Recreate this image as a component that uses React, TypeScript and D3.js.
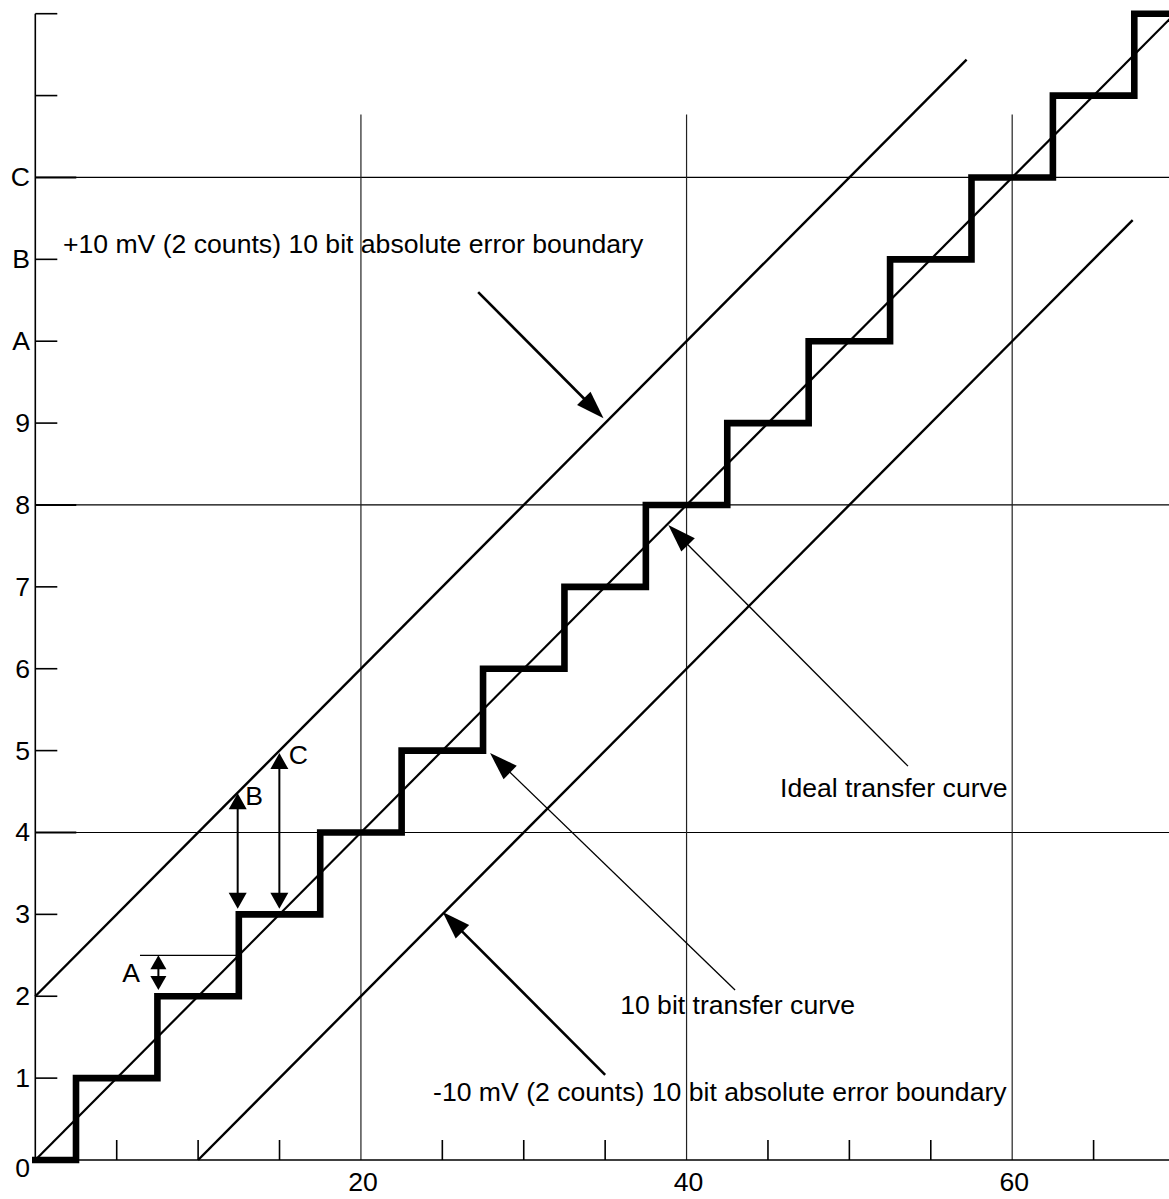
import React from 'react';
import * as d3 from 'd3';

// ---------- data ----------
const stepEdges = [0, 2.5, 7.5, 12.5, 17.5, 22.5, 27.5, 32.5, 37.5, 42.5, 47.5, 52.5, 57.5, 62.5, 67.5, 70];
const stepCodes = [0, 1, 2, 3, 4, 5, 6, 7, 8, 9, 10, 11, 12, 13, 14, 14];

const idealX = [0, 70];
const idealY = [0, 14];
const upperX = [0, 57.2];
const upperY = [2, 13.44];
const lowerX = [10, 67.4];
const lowerY = [0, 11.48];

const yTickValues = [0, 1, 2, 3, 4, 5, 6, 7, 8, 9, 10, 11, 12, 13, 14];
const yTickLabels = ['0', '1', '2', '3', '4', '5', '6', '7', '8', '9', 'A', 'B', 'C', '', ''];
const xMinorTicks = [5, 10, 15, 25, 30, 35, 45, 50, 55, 65];
const xLabelTicks = [20, 40, 60];
const gridYValues = [4, 8, 12];
const gridXValues = [20, 40, 60];
const gridXTop = 12.77;

// annotation arrows (data coordinates)
const bigArrows = [
  { from: [27.2, 10.6], tip: [34.9, 9.06], w: 2.6 },
  { from: [53.6, 4.81], tip: [38.88, 7.755], w: 1.3 },
  { from: [42.98, 2.076], tip: [27.93, 4.97], w: 1.3 },
  { from: [35.0, 1.04], tip: [25.02, 3.03], w: 2.6 },
];

// measurement arrows: x, lower tip y, upper tip y
const measureX = [7.56, 12.43, 14.99];
const measureLow = [2.076, 3.07, 3.07];
const measureHigh = [2.5, 4.48, 4.97];
const measureHead = [[14, 8], [16, 9], [16, 9]];
const refLineA = { x0: 6.43, x1: 12.37, y: 2.5 };

const labels = [
  { text: '+10 mV (2 counts) 10 bit absolute error boundary', x: 1.7, y: 11.08, anchor: 'start' },
  { text: 'Ideal transfer curve', x: 45.74, y: 4.43, anchor: 'start' },
  { text: '10 bit transfer curve', x: 35.92, y: 1.78, anchor: 'start' },
  { text: '-10 mV (2 counts) 10 bit absolute error boundary', x: 24.43, y: 0.72, anchor: 'start' },
  { text: 'A', x: 5.88, y: 2.18, anchor: 'middle' },
  { text: 'B', x: 12.9, y: 4.33, anchor: 'start' },
  { text: 'C', x: 15.56, y: 4.84, anchor: 'start' },
];

const W = 1169;
const H = 1199;
const FONT = "'Liberation Sans', Arial, Helvetica, sans-serif";
const FS = 26.6;

function arrowHead(tx: number, ty: number, fx: number, fy: number, len: number, hw: number) {
  const dx = tx - fx;
  const dy = ty - fy;
  const d = Math.sqrt(dx * dx + dy * dy);
  const ux = dx / d;
  const uy = dy / d;
  const bx = tx - ux * len;
  const by = ty - uy * len;
  const px = -uy;
  const py = ux;
  return `M${tx},${ty}L${bx + px * hw},${by + py * hw}L${bx - px * hw},${by - py * hw}Z`;
}

export default function App() {
  const x = d3.scaleLinear().domain([0, 70]).range([35.3, 1175]);
  const y = d3.scaleLinear().domain([0, 14]).range([1160, 13.7]);

  const stepLine = d3
    .line<number>()
    .x((_, i) => x(stepEdges[i]))
    .y((_, i) => y(stepCodes[i]))
    .curve(d3.curveStepAfter);

  const seg = (xs: number[], ys: number[]) =>
    d3
      .line<number>()
      .x((_, i) => x(xs[i]))
      .y((_, i) => y(ys[i]))(xs);

  return (
    <svg
      width={W}
      height={H}
      style={{ position: 'absolute', left: 0, top: 0, background: '#fff' }}
      fontFamily={FONT}
    >
      <rect x={0} y={0} width={W} height={H} fill="#fff" />
      {/* grid */}
      {gridYValues.map((v) => (
        <line key={'gy' + v} x1={x(0)} x2={W} y1={y(v)} y2={y(v)} stroke="#000" strokeWidth={1.2} />
      ))}
      {gridXValues.map((v) => (
        <line key={'gx' + v} x1={x(v)} x2={x(v)} y1={y(0)} y2={y(gridXTop)} stroke="#222" strokeWidth={1.2} />
      ))}
      {/* axes */}
      <line x1={x(0)} x2={x(0)} y1={y(0)} y2={y(14)} stroke="#000" strokeWidth={1.6} />
      <line x1={x(0)} x2={W} y1={y(0)} y2={y(0)} stroke="#000" strokeWidth={1.6} />
      {yTickValues.map((v, i) => (
        <g key={'yt' + v}>
          {v > 0 && (
            <line
              x1={x(0)}
              x2={x(0) + (gridYValues.includes(v) ? 41 : 22)}
              y1={y(v)}
              y2={y(v)}
              stroke="#000"
              strokeWidth={gridYValues.includes(v) ? 2 : 1.6}
            />
          )}
          {yTickLabels[i] && (
            <text
              x={30}
              y={v === 0 ? y(v) + 17 : y(v) + 9}
              textAnchor="end"
              fontSize={FS}
              fill="#000"
            >
              {yTickLabels[i]}
            </text>
          )}
        </g>
      ))}
      {xMinorTicks.map((v) => (
        <line key={'xt' + v} x1={x(v)} x2={x(v)} y1={y(0)} y2={y(0) - 20} stroke="#000" strokeWidth={1.6} />
      ))}
      {xLabelTicks.map((v) => (
        <text key={'xl' + v} x={x(v) + 2} y={1191} textAnchor="middle" fontSize={FS} fill="#000">
          {v}
        </text>
      ))}

      {/* diagonal lines */}
      <path d={seg(idealX, idealY) || ''} stroke="#000" strokeWidth={2.2} fill="none" />
      <path d={seg(upperX, upperY) || ''} stroke="#000" strokeWidth={2.4} fill="none" />
      <path d={seg(lowerX, lowerY) || ''} stroke="#000" strokeWidth={2.4} fill="none" />

      {/* staircase */}
      <path
        d={stepLine(stepEdges) || ''}
        stroke="#000"
        strokeWidth={6.6}
        fill="none"
        strokeLinecap="square"
        strokeLinejoin="miter"
      />

      {/* reference line for A */}
      <line
        x1={x(refLineA.x0)}
        x2={x(refLineA.x1)}
        y1={y(refLineA.y)}
        y2={y(refLineA.y)}
        stroke="#000"
        strokeWidth={1.3}
      />

      {/* measurement arrows */}
      {measureX.map((mx, i) => {
        const px = x(mx);
        const lo = y(measureLow[i]);
        const hi = y(measureHigh[i]);
        const [len, hw] = measureHead[i];
        return (
          <g key={'m' + i}>
            <line x1={px} x2={px} y1={hi + len - 2} y2={lo - len + 2} stroke="#000" strokeWidth={2} />
            <path d={arrowHead(px, hi, px, lo, len, hw)} fill="#000" />
            <path d={arrowHead(px, lo, px, hi, len, hw)} fill="#000" />
          </g>
        );
      })}

      {/* annotation arrows */}
      {bigArrows.map((a, i) => {
        const fx = x(a.from[0]);
        const fy = y(a.from[1]);
        const tx = x(a.tip[0]);
        const ty = y(a.tip[1]);
        const dx = tx - fx;
        const dy = ty - fy;
        const d = Math.sqrt(dx * dx + dy * dy);
        const ex = tx - (dx / d) * 20;
        const ey = ty - (dy / d) * 20;
        return (
          <g key={'a' + i}>
            <line x1={fx} y1={fy} x2={ex} y2={ey} stroke="#000" strokeWidth={a.w} />
            <path d={arrowHead(tx, ty, fx, fy, 28, 9.5)} fill="#000" />
          </g>
        );
      })}

      {/* labels */}
      {labels.map((l, i) => (
        <text
          key={'l' + i}
          x={x(l.x)}
          y={y(l.y)}
          textAnchor={l.anchor as any}
          fontSize={FS}
          fill="#000"
        >
          {l.text}
        </text>
      ))}
    </svg>
  );
}
